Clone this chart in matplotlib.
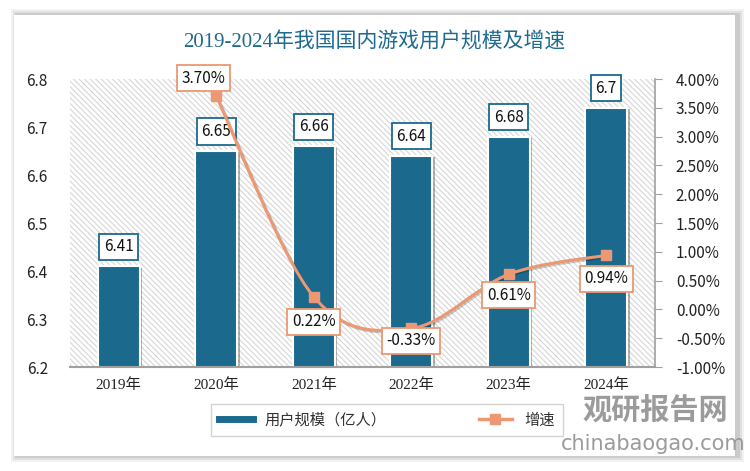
import numpy as np
import matplotlib
matplotlib.use('Agg')
import matplotlib.pyplot as plt
from matplotlib.path import Path
from matplotlib.patches import PathPatch, Rectangle
from matplotlib.lines import Line2D
import matplotlib.patheffects as pe

plt.rcParams['font.family'] = ['Noto Sans CJK SC', 'DejaVu Sans']
plt.rcParams['hatch.color'] = '#d6d6d6'
plt.rcParams['hatch.linewidth'] = 0.8

years = ['2019年', '2020年', '2021年', '2022年', '2023年', '2024年']
users = [6.41, 6.65, 6.66, 6.64, 6.68, 6.74]
growth = [None, 3.70, 0.22, -0.33, 0.61, 0.94]
user_labels = ['6.41', '6.65', '6.66', '6.64', '6.68', '6.7']
growth_labels = ['', '3.70%', '0.22%', '-0.33%', '0.61%', '0.94%']
growth_offsets = [None, (-9, 13), (0, -18), (0, -9), (0, -15), (0, -17)]

blue = '#1b6a8e'
orange = '#eb9873'
serif = ['Liberation Serif', 'Noto Sans CJK SC']

fig = plt.figure(figsize=(7.5, 4.71), dpi=100, facecolor='white')

# card with soft shadow
for i, a in enumerate([0.05, 0.07, 0.09]):
    d = (3 - i) * 2
    fig.patches.append(Rectangle(((14 - d + 3) / 750, 1 - (456 + d) / 471), (721 + 2 * d) / 750, (441 + 2 * d) / 471,
                                 transform=fig.transFigure, facecolor='black', alpha=a, edgecolor='none', zorder=-3))
fig.patches.append(Rectangle((14 / 750, 1 - 456 / 471), 721 / 750, 441 / 471,
                             transform=fig.transFigure, facecolor='white', edgecolor='none', zorder=-2))

ax = fig.add_axes([70 / 750, 1 - 367 / 471, 585 / 750, 288 / 471])
ax.set_facecolor('none')
ax.add_patch(Rectangle((0, 0), 1, 1, transform=ax.transAxes, facecolor='white', hatch='\\\\\\\\\\\\',
                       edgecolor='#d6d6d6', linewidth=0, zorder=0))
x = np.arange(len(years))
bars = ax.bar(x, users, width=0.43, color=blue, edgecolor='white', linewidth=1.5, zorder=2,
              path_effects=[pe.SimplePatchShadow(offset=(2, -1), shadow_rgbFace='#555555', alpha=0.45), pe.Normal()])
ax.set_xlim(-0.5, len(years) - 0.5)
ax.set_ylim(6.2, 6.8)
ax.set_yticks(np.arange(6.2, 6.81, 0.1))
ax.set_yticklabels(['%.1f' % v for v in np.arange(6.2, 6.81, 0.1)], fontsize=11, color='#222222')
ax.set_xticks(x)
ax.set_xticklabels(years, fontsize=11, family=serif, color='#222222')
ax.tick_params(axis='y', length=0, pad=16)
ax.tick_params(axis='x', length=0, pad=8)
for s in ['top', 'left', 'right']:
    ax.spines[s].set_visible(False)
ax.spines['bottom'].set_color('#a0a0a0')
ax.spines['bottom'].set_linewidth(1.5)

for xi, v, lab in zip(x, users, user_labels):
    ax.annotate(lab, (xi, v), xytext=(0, 14), textcoords='offset points', ha='center', va='center',
                fontsize=11, color='#111111', zorder=5,
                bbox=dict(boxstyle='square,pad=0.3', facecolor='white', edgecolor=blue, linewidth=1.3))

ax2 = ax.twinx()
ax2.set_ylim(-1, 4)
ticks = np.arange(-1, 4.01, 0.5)
ax2.set_yticks(ticks)
ax2.set_yticklabels(['%.2f%%' % t for t in ticks], fontsize=11, color='#222222')
ax2.tick_params(axis='y', length=5, color='#a0a0a0', pad=10)
for s in ['top', 'left', 'bottom']:
    ax2.spines[s].set_visible(False)
ax2.spines['right'].set_color('#a0a0a0')
ax2.spines['right'].set_linewidth(1.2)

# smoothed growth line (Catmull-Rom as bezier segments)
gx = np.array([xi for xi, g in zip(x, growth) if g is not None], dtype=float)
gy = np.array([g for g in growth if g is not None], dtype=float)
pts = np.column_stack([gx, gy])
verts = [pts[0]]
codes = [Path.MOVETO]
for i in range(len(pts) - 1):
    p0 = pts[i - 1] if i > 0 else pts[i]
    p1, p2 = pts[i], pts[i + 1]
    p3 = pts[i + 2] if i + 2 < len(pts) else pts[i + 1]
    c1 = p1 + (p2 - p0) / 6
    c2 = p2 - (p3 - p1) / 6
    verts += [c1, c2, p2]
    codes += [Path.CURVE4] * 3
ax2.add_patch(PathPatch(Path(verts, codes), facecolor='none', edgecolor=orange, linewidth=2.2, zorder=3,
                        path_effects=[pe.SimpleLineShadow(offset=(1, -1), alpha=0.2), pe.Normal()]))
ax2.plot(gx, gy, linestyle='none', marker='s', markersize=7, color=orange, zorder=4)

for xi, g, lab, off in zip(x, growth, growth_labels, growth_offsets):
    if g is None:
        continue
    ax2.annotate(lab, (xi, g), xytext=off, textcoords='offset points', ha='center', va='center',
                 fontsize=11, color='#111111', zorder=6,
                 bbox=dict(boxstyle='square,pad=0.3', facecolor='white', edgecolor=orange, linewidth=1.3))

fig.text(374 / 750, 1 - 43 / 471, '2019-2024年我国国内游戏用户规模及增速', ha='center', va='center',
         fontsize=15, color='#1f6a8f', family=serif)

handles = [Line2D([], [], color=blue, linewidth=5),
           Line2D([], [], color=orange, linewidth=2.5, marker='s', markersize=7)]
leg = fig.legend(handles, ['用户规模（亿人）', '增速'], loc='center', bbox_to_anchor=(387 / 750, 1 - 420 / 471),
                 ncol=2, fontsize=11, frameon=True, fancybox=False, columnspacing=6, handlelength=2.2,
                 borderpad=0.5, labelcolor='#333333')
leg.get_frame().set_edgecolor('#c8c8c8')
leg.get_frame().set_linewidth(1)

fig.text(655 / 750, 1 - 410 / 471, '观研报告网', ha='center', va='center', fontsize=21, fontweight='bold',
         color='#8a8a8a', alpha=0.85)
fig.text(653 / 750, 1 - 444 / 471, 'chinabaogao.com', ha='center', va='center', fontsize=15,
         color='#8a8a8a', alpha=0.85, family='DejaVu Sans')

fig.savefig('out.png', dpi=100)
plt.close(fig)
